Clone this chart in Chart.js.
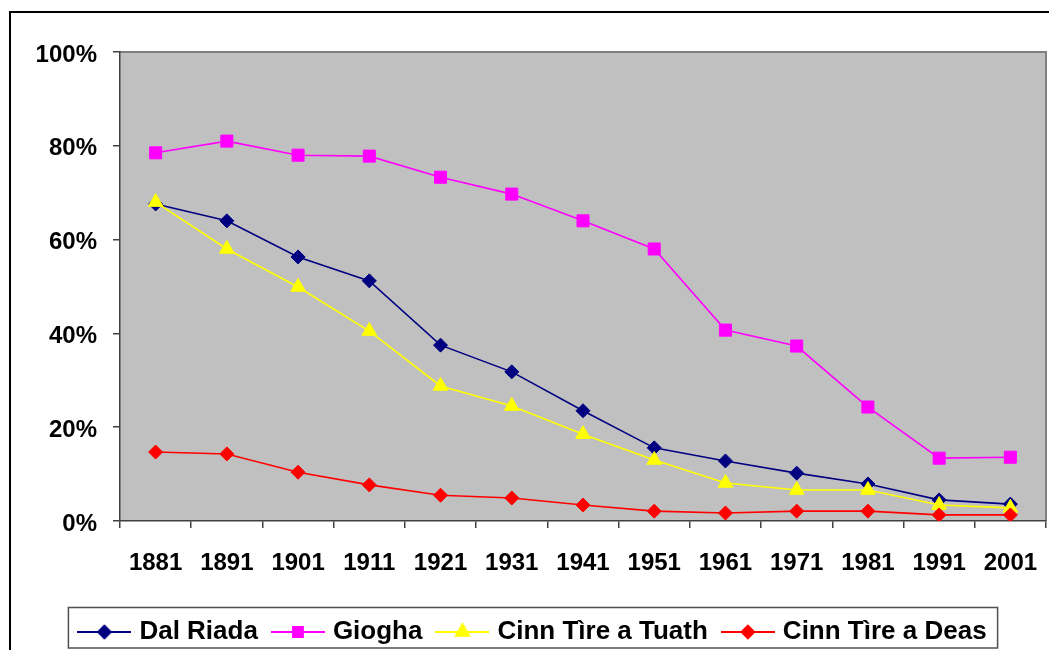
<!DOCTYPE html>
<html>
<head>
<meta charset="utf-8">
<script src="https://cdn.jsdelivr.net/npm/chart.js@4.4.1/dist/chart.umd.min.js"></script>
<style>
  html, body { margin: 0; padding: 0; background: #fff; }
  #wrap { width: 1049px; height: 650px; }
</style>
</head>
<body>
<div id="wrap"><canvas id="grafico" width="1049" height="650"></canvas></div>
<script>
// datos (porcentaje)
const anios = ["1881", "1891", "1901", "1911", "1921", "1931", "1941", "1951", "1961", "1971", "1981", "1991", "2001"];
const dalRiada = [67.6, 64.0, 56.3, 51.2, 37.5, 31.8, 23.5, 15.6, 12.8, 10.2, 7.9, 4.5, 3.6];
const giogha = [78.5, 81.0, 78.0, 77.8, 73.3, 69.7, 64.0, 58.0, 40.7, 37.3, 24.3, 13.4, 13.6];
const tuath = [68.0, 58.0, 49.9, 40.5, 28.8, 24.5, 18.5, 13.0, 8.1, 6.6, 6.6, 3.4, 2.8];
const deas = [14.7, 14.3, 10.4, 7.7, 5.5, 4.9, 3.4, 2.1, 1.7, 2.1, 2.1, 1.3, 1.3];
const ticksY = [0, 20, 40, 60, 80, 100];

const fuente = "'Liberation Sans', Arial, sans-serif";

// icono de la leyenda: linea + marcador
function icono(color, estilo, radio) {
  const c = document.createElement("canvas");
  c.width = 54; c.height = 20;
  const ctx = c.getContext("2d");
  ctx.strokeStyle = color;
  ctx.lineWidth = 2;
  ctx.beginPath(); ctx.moveTo(0, 10); ctx.lineTo(54, 10); ctx.stroke();
  ctx.fillStyle = color;
  Chart.helpers.drawPoint(ctx, { pointStyle: estilo, radius: radio, borderWidth: 1 }, 27, 10);
  return c;
}

function serie(nombre, datos, color, estilo, radio, orden) {
  return {
    label: nombre,
    data: datos,
    borderColor: color,
    backgroundColor: color,
    borderWidth: 1.6,
    pointStyle: estilo,
    pointRadius: radio,
    pointHoverRadius: radio,
    pointBorderColor: color,
    pointBackgroundColor: color,
    pointBorderWidth: 1,
    tension: 0,
    order: orden
  };
}

const series = [
  serie("Dal Riada", dalRiada, "#000080", "rectRot", 7, 4),
  serie("Giogha", giogha, "#FF00FF", "rect", 8.5, 3),
  serie("Cinn Tìre a Tuath", tuath, "#FFFF00", "triangle", 8.5, 2),
  serie("Cinn Tìre a Deas", deas, "#FF0000", "rectRot", 7, 1)
];

const iconos = series.map(s => icono(s.borderColor, s.pointStyle, s.pointStyle == "rect" ? 7 : s.pointRadius * 0.9));

// fondo gris, borde exterior y caja de la leyenda
const marco = {
  id: "marco",
  beforeDraw(chart) {
    const ctx = chart.ctx;
    const a = chart.chartArea;
    ctx.save();
    ctx.fillStyle = "#fff";
    ctx.fillRect(0, 0, chart.width, chart.height);
    ctx.strokeStyle = "#000";
    ctx.lineWidth = 2;
    ctx.strokeRect(10, 12, chart.width + 20, chart.height + 20);
    ctx.fillStyle = "#C0C0C0";
    ctx.fillRect(a.left, a.top, a.right - a.left, a.bottom - a.top);
    ctx.strokeStyle = "#808080";
    ctx.lineWidth = 2;
    ctx.beginPath();
    ctx.moveTo(a.left, a.top);
    ctx.lineTo(a.right, a.top);
    ctx.lineTo(a.right, a.bottom);
    ctx.stroke();
    ctx.restore();
  },
  afterDraw(chart) {
    const cajas = chart.legend.legendHitBoxes;
    if (!cajas || !cajas.length) return;
    const ctx = chart.ctx;
    let izq = Infinity, der = 0;
    cajas.forEach(c => { izq = Math.min(izq, c.left); der = Math.max(der, c.left + c.width); });
    izq -= 14; der += 11;
    ctx.save();
    ctx.strokeStyle = "#505050";
    ctx.lineWidth = 1.5;
    ctx.strokeRect(izq, 607.5, der - izq, 40.5);
    ctx.restore();
  }
};

new Chart(document.getElementById("grafico"), {
  type: "line",
  data: { labels: anios, datasets: series },
  options: {
    responsive: false,
    animation: false,
    layout: { autoPadding: false, padding: { left: 23, right: 3, top: 52, bottom: 0 } },
    plugins: {
      tooltip: { enabled: false },
      legend: {
        position: "bottom",
        maxHeight: 49,
        labels: {
          usePointStyle: true,
          pointStyleWidth: 44,
          boxHeight: 20,
          padding: 18,
          color: "#000",
          font: { family: fuente, size: 26, weight: "bold" },
          sort: (a, b) => a.datasetIndex - b.datasetIndex,
          generateLabels(chart) {
            const items = Chart.defaults.plugins.legend.labels.generateLabels(chart);
            items.forEach(it => { it.pointStyle = iconos[it.datasetIndex]; });
            return items;
          }
        }
      }
    },
    scales: {
      x: {
        offset: true,
        afterFit(scale) { scale.height = 80; scale.paddingLeft = 0; scale.paddingRight = 0; },
        border: { color: "#404040", width: 1.5 },
        grid: { offset: true, drawOnChartArea: false, tickLength: 7, color: "#404040", lineWidth: 1.5 },
        ticks: { color: "#000", padding: 21, maxRotation: 0, font: { family: fuente, size: 24, weight: "bold" } }
      },
      y: {
        min: 0,
        max: 100,
        afterFit(scale) { scale.width = 97; scale.paddingTop = 0; scale.paddingBottom = 0; },
        afterBuildTicks(scale) { scale.ticks = ticksY.map(v => ({ value: v })); },
        border: { color: "#404040", width: 1.5 },
        grid: { drawOnChartArea: false, tickLength: 7, color: "#404040", lineWidth: 1.5 },
        ticks: {
          color: "#000",
          padding: 16,
          labelOffset: 3,
          font: { family: fuente, size: 24, weight: "bold" },
          callback: v => v + "%"
        }
      }
    }
  },
  plugins: [marco]
});
</script>
</body>
</html>
